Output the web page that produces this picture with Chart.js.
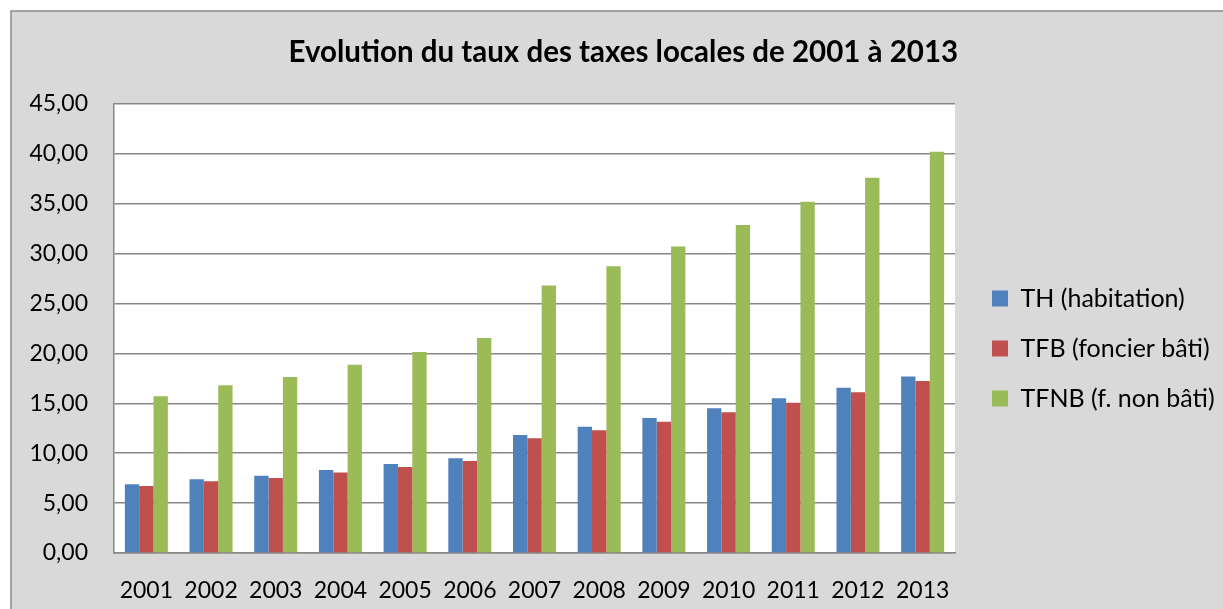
<!DOCTYPE html>
<html>
<head>
<meta charset="utf-8">
<script src="https://cdn.jsdelivr.net/npm/chart.js@4/dist/chart.umd.min.js"></script>
<style>
  html, body { margin: 0; padding: 0; background: #fff; }
  #chart { display: block; }
</style>
</head>
<body>
<canvas id="chart" width="1223" height="609"></canvas>
<script>
// données
const annees = ['2001', '2002', '2003', '2004', '2005', '2006', '2007', '2008', '2009', '2010', '2011', '2012', '2013'];
const seriesNoms = ['TH (habitation)', 'TFB (foncier bâti)', 'TFNB (f. non bâti)'];
const th   = [6.88, 7.38, 7.75, 8.32, 8.92, 9.49, 11.82, 12.66, 13.53, 14.50, 15.50, 16.57, 17.70];
const tfb  = [6.71, 7.18, 7.52, 8.08, 8.62, 9.22, 11.49, 12.29, 13.16, 14.10, 15.06, 16.10, 17.23];
const tfnb = [15.70, 16.80, 17.64, 18.87, 20.14, 21.54, 26.82, 28.73, 30.73, 32.87, 35.20, 37.61, 40.21];
const titre = 'Evolution du taux des taxes locales de 2001 à 2013';

const couleurs = ['#4f81bd', '#c0504d', '#9bbb59'];
const W = 1223;
const plotRight = 955;
const legFont = 25;
const legPad = 50 - legFont;
const decalage = 12;   // écart entre la zone de tracé et la légende
const decalageTitre = 17;

const fond = {
    id: 'fond',
    beforeDraw(chart) {
        const c = chart.ctx;
        const a = chart.chartArea;
        c.save();
        c.fillStyle = '#fff';
        c.fillRect(0, 0, chart.width, chart.height);
        c.fillStyle = '#d9d9d9';
        c.fillRect(11, 11, chart.width, chart.height);
        c.strokeStyle = '#8a8a8a';
        c.lineWidth = 1.5;
        c.beginPath();
        c.moveTo(11, chart.height + 5);
        c.lineTo(11, 11);
        c.lineTo(chart.width + 5, 11);
        c.stroke();
        c.fillStyle = '#fff';
        c.fillRect(a.left, a.top, a.right - a.left, a.bottom - a.top);
        c.restore();
    }
};

const decaleBlocs = {
    id: 'decaleBlocs',
    afterLayout(chart) {
        const lg = chart.legend;
        lg.left += decalage;
        lg.right += decalage;
        const t = chart.titleBlock;
        if (t) {
            t.left += decalageTitre;
            t.right += decalageTitre;
        }
    }
};

function dessine() {
    const mctx = document.createElement('canvas').getContext('2d');
    mctx.font = legFont + 'px Lato';
    const maxText = Math.max(...seriesNoms.map(s => mctx.measureText(s).width));
    const legendW = legPad + 16 + legFont / 2 + maxText + 10;
    const padRight = Math.max(0, W - plotRight - legendW);

    const ctx = document.getElementById('chart').getContext('2d');
    new Chart(ctx, {
        type: 'bar',
        data: {
            labels: annees,
            datasets: [th, tfb, tfnb].map((d, i) => ({
                label: seriesNoms[i],
                data: d,
                backgroundColor: couleurs[i],
                borderWidth: 0,
                categoryPercentage: 0.665,
                barPercentage: 1
            }))
        },
        options: {
            responsive: false,
            animation: false,
            layout: { padding: { left: 0, top: 0, bottom: 0, right: padRight } },
            plugins: {
                title: {
                    display: true,
                    text: titre,
                    color: '#000',
                    font: { family: 'Lato', size: 29.5, weight: 'bold' },
                    padding: { top: 35, bottom: 33.6 }
                },
                legend: {
                    position: 'right',
                    fullSize: false,
                    title: { display: true, text: '', font: { size: 12, lineHeight: 1 }, padding: { top: 28, bottom: 0 } },
                    labels: {
                        color: '#000',
                        font: { family: 'Lato', size: legFont },
                        boxWidth: 16,
                        boxHeight: 16,
                        padding: legPad
                    }
                },
                tooltip: { enabled: false }
            },
            scales: {
                x: {
                    grid: { display: false, drawTicks: false },
                    border: { color: '#878787', width: 1.5 },
                    ticks: { color: '#000', font: { family: 'Lato', size: 23 }, padding: 23.5, maxRotation: 0 },
                    afterFit(s) { s.height = 56; }
                },
                y: {
                    min: 0,
                    max: 45,
                    ticks: {
                        stepSize: 5,
                        color: '#000',
                        font: { family: 'Lato', size: 23 },
                        padding: 26,
                        callback: v => v.toFixed(2).replace('.', ',')
                    },
                    grid: { color: '#878787', lineWidth: 1.5, drawTicks: false },
                    border: { color: '#878787', width: 1.5 },
                    afterFit(s) { s.width = 114; }
                }
            }
        },
        plugins: [fond, decaleBlocs]
    });
}

document.fonts.load(legFont + 'px Lato').then(dessine, dessine);
</script>
</body>
</html>
